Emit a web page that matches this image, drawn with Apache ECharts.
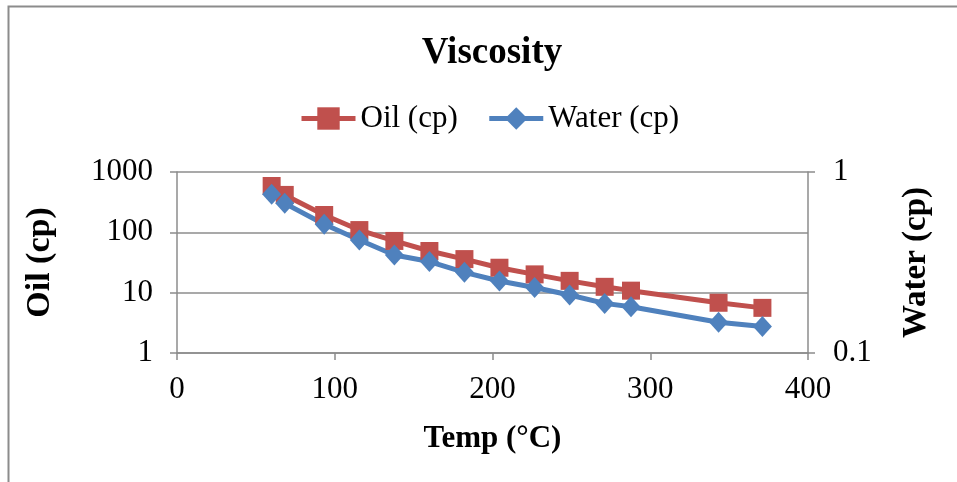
<!DOCTYPE html>
<html>
<head>
<meta charset="utf-8">
<script src="https://cdn.jsdelivr.net/npm/echarts@6/dist/echarts.min.js"></script>
<style>
html,body{margin:0;padding:0;background:#fff;}
#chart{width:957px;height:482px;}
</style>
</head>
<body>
<div id="chart"></div>
<script>
var temps = [60, 68.3, 93.3, 115.6, 137.8, 160, 182.2, 204.4, 226.7, 248.9, 271.1, 287.8, 343.3, 371.1];
var oilCp = [586, 417, 194, 109, 72, 49, 36, 25.9, 20.1, 15.7, 12.5, 10.8, 6.8, 5.6];
var waterCp = [0.753, 0.671, 0.514, 0.421, 0.348, 0.320, 0.279, 0.250, 0.230, 0.209, 0.188, 0.180, 0.148, 0.140];
var seriesNames = ['Oil (cp)', 'Water (cp)'];
var titleText = 'Viscosity';
var xName = 'Temp (°C)';

var FONT = "'Liberation Serif','Times New Roman',serif";
var GRAY = '#8c8c8c';

function pairs(xs, ys) { return xs.map(function (x, i) { return [x, ys[i]]; }); }
function plain(v) { return String(v); }

var chart = echarts.init(document.getElementById('chart'), null, {renderer: 'canvas'});
chart.setOption({
  animation: false,
  backgroundColor: '#fff',
  graphic: [{
    type: 'rect', shape: {x: 8.5, y: 6.5, width: 2000, height: 2000},
    style: {fill: 'none', stroke: GRAY, lineWidth: 2}, silent: true
  }],
  title: {
    text: titleText, left: 487, top: 30, textAlign: 'center',
    textStyle: {fontFamily: FONT, fontWeight: 'bold', fontSize: 37, color: '#000'}
  },
  legend: {
    left: 294, top: 98, itemWidth: 54, itemHeight: 28, itemGap: 29,
    lineStyle: {width: 5},
    textStyle: {fontFamily: FONT, fontSize: 31, color: '#000'},
    data: seriesNames
  },
  grid: {left: 177, right: 149, top: 172, bottom: 129, containLabel: false},
  xAxis: {
    type: 'value', min: 0, max: 400, interval: 100,
    name: xName, nameLocation: 'middle', nameGap: 70,
    nameTextStyle: {fontFamily: FONT, fontWeight: 'bold', fontSize: 31, color: '#000'},
    axisLine: {show: true, lineStyle: {color: GRAY, width: 1.5}},
    axisTick: {show: true, length: 7, lineStyle: {color: GRAY, width: 1.5}},
    axisLabel: {fontFamily: FONT, fontSize: 31, color: '#000', margin: 21},
    splitLine: {show: false}
  },
  yAxis: [{
    type: 'log', logBase: 10, min: 1, max: 1000, position: 'left',
    name: seriesNames[0], nameLocation: 'middle', nameGap: 120, nameRotate: 90,
    nameTextStyle: {fontFamily: FONT, fontWeight: 'bold', fontSize: 34, color: '#000'},
    axisLine: {show: true, lineStyle: {color: GRAY, width: 1.5}},
    axisTick: {show: true, length: 7, lineStyle: {color: GRAY, width: 1.5}},
    axisLabel: {fontFamily: FONT, fontSize: 31, color: '#000', margin: 24, formatter: plain},
    splitLine: {show: true, lineStyle: {color: GRAY, width: 1.5}}
  }, {
    type: 'log', logBase: 10, min: 0.1, max: 1, position: 'right',
    name: seriesNames[1], nameLocation: 'middle', nameGap: 92, nameRotate: 90,
    nameTextStyle: {fontFamily: FONT, fontWeight: 'bold', fontSize: 33, color: '#000'},
    axisLine: {show: true, lineStyle: {color: GRAY, width: 1.5}},
    axisTick: {show: true, length: 7, lineStyle: {color: GRAY, width: 1.5}},
    axisLabel: {fontFamily: FONT, fontSize: 31, color: '#000', margin: 25, formatter: plain},
    splitLine: {show: false}
  }],
  series: [{
    name: seriesNames[0], type: 'line', yAxisIndex: 0,
    data: pairs(temps, oilCp),
    symbol: 'rect', symbolSize: 18,
    lineStyle: {color: '#C0504D', width: 5},
    itemStyle: {color: '#C0504D'}
  }, {
    name: seriesNames[1], type: 'line', yAxisIndex: 1,
    data: pairs(temps, waterCp),
    symbol: 'diamond', symbolSize: [19, 21],
    lineStyle: {color: '#4F81BD', width: 5},
    itemStyle: {color: '#4F81BD'}
  }]
});
</script>
</body>
</html>
